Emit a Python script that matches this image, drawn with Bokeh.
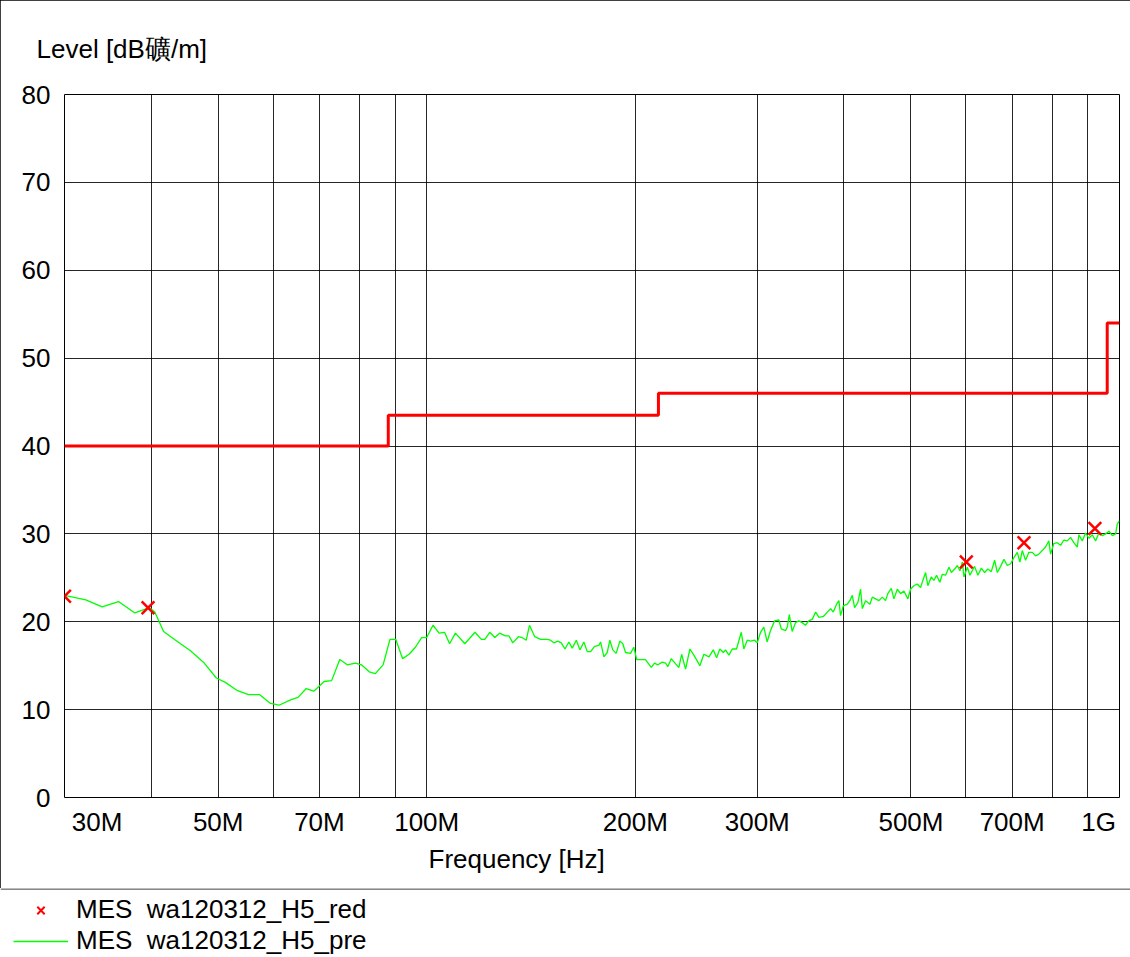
from bokeh.plotting import figure
from bokeh.models import Range1d, FixedTicker, Legend, LegendItem, Span, Title
from bokeh.layouts import column
from bokeh.embed import file_html
from bokeh.resources import INLINE

# ---------------- data ----------------
# x tick values (MHz) and their labels
tick_vals = [30, 40, 50, 60, 70, 80, 90, 100, 200, 300, 400, 500, 600, 700, 800, 900, 1000]
tick_labels = ["30M", "", "50M", "", "70M", "", "", "100M", "200M", "300M", "", "500M", "", "700M", "", "", "1G"]
y_ticks = [0, 10, 20, 30, 40, 50, 60, 70, 80]

# limit line (dBuV/m) - step after each frequency
limit_freq = [30, 88, 216, 960, 1000]
limit_level = [40, 43.5, 46, 54, 54]

# final measurement points (red x)
mark_freq = [30.0, 39.6, 601.0, 728.0, 921.5]
mark_level = [22.9, 21.6, 26.8, 29.0, 30.6]

# pre-scan trace (green)
pre_freq = [
    30.0, 32.2, 34.0, 35.9, 37.9, 39.8, 40.5, 41.7, 43.4, 45.6, 47.6, 49.7, 51.2, 53.2, 55.3, 57.4,
    59.5, 61.2, 63.6, 65.2, 67.0, 68.7, 71.1, 72.9, 74.9, 76.8, 78.9, 80.5, 82.6, 84.3, 86.5, 88.5,
    90.2, 92.3, 94.3, 96.3, 98.3, 100.0, 102.1, 104.2, 106.1, 107.9,
    110.0, 113.5, 117.4, 119.9, 121.3, 123.3, 125.4, 127.4, 129.9, 131.4, 133.1, 135.6, 137.3, 139.2,
    140.7, 143.2, 146.0, 149.3, 150.9, 152.6, 154.6, 156.4, 158.3, 160.4, 162.2, 164.4, 166.4, 168.6,
    170.5, 172.4, 174.7, 177.2, 178.2, 180.2, 182.2, 183.8, 185.6, 187.7, 190.0, 191.9, 193.6, 196.9,
    199.0, 201.0,
    206.9, 210.9, 213.2, 215.6, 218.8, 221.2, 222.9, 225.4, 228.7, 231.2, 233.3, 236.4, 239.8, 243.0,
    247.9, 251.2, 255.5, 259.2, 262.1, 264.9, 268.0, 270.0, 273.0, 276.1, 280.0, 284.5, 286.9, 290.2,
    293.4, 297.3, 300.0, 303.3, 306.6, 310.0, 313.5, 317.8, 322.3, 324.9, 329.7, 331.5, 333.7, 336.9,
    340.7, 344.4, 348.3, 352.1, 356.0,
    360.3, 364.3, 368.2, 373.7, 378.7, 382.8, 386.2, 390.5, 393.5, 395.7, 399.3, 404.7, 408.1, 411.4,
    414.6, 419.2, 422.9, 425.4, 430.0, 436.3, 439.7, 444.6, 449.5, 454.6, 459.5, 463.0, 468.3, 472.5,
    477.8, 483.1, 488.4, 494.9, 499.3, 504.8, 510.5, 516.2, 519.2, 524.9, 528.9, 534.9, 539.6, 544.4,
    550.4, 554.9, 561.1, 567.3, 571.9, 578.2, 583.4, 588.4, 593.2, 596.3, 603.1, 608.4,
    611.1, 617.7, 624.6, 631.8, 638.7, 645.7, 653.0, 660.3, 666.3, 673.6, 681.0, 688.7, 696.4, 704.0,
    712.0, 718.2, 723.9, 731.9, 739.9, 748.4, 756.6, 764.9, 773.5, 782.0, 790.7, 795.2, 803.9, 813.1,
    822.1, 831.2, 840.6, 849.8, 859.2, 869.0, 873.7, 883.6, 893.4, 903.4, 913.6, 923.6, 934.0, 944.5,
    954.9, 965.6, 976.6, 987.1, 992.7, 1000.0,
]
pre_level = [
    23.0, 22.5, 21.7, 22.3, 21.0, 21.6, 21.1, 18.9, 17.9, 16.7, 15.4, 13.6, 13.1, 12.2, 11.7, 11.7,
    10.7, 10.5, 11.1, 11.4, 12.4, 12.1, 13.2, 13.3, 15.7, 15.1, 15.3, 15.1, 14.3, 14.1, 15.1, 18.0,
    18.0, 15.8, 16.3, 17.1, 18.2, 18.2, 19.6, 18.7, 18.8, 17.5,
    18.7, 17.5, 18.8, 18.0, 18.0, 18.8, 18.2, 18.7, 18.4, 18.4, 17.6, 18.3, 18.2, 17.9,
    19.6, 18.3, 18.0, 18.0, 17.9, 17.6, 17.8, 17.6, 16.9, 17.7, 17.0, 17.9, 16.8, 17.7,
    16.6, 16.6, 17.2, 17.3, 17.7, 16.0, 16.5, 17.9, 16.8, 16.4, 17.8, 17.5, 16.5, 16.4,
    17.1, 15.7,
    15.7, 14.8, 15.3, 15.1, 15.4, 15.3, 14.9, 15.8, 15.2, 14.8, 16.3, 14.6, 16.9, 16.2,
    15.0, 16.3, 16.0, 16.8, 15.9, 16.9, 16.5, 16.8, 16.2, 16.9, 16.9, 18.8, 16.9, 17.9,
    17.8, 17.9, 17.6, 18.8, 19.4, 17.7, 19.0, 20.1, 20.2, 19.2, 19.0, 19.4, 20.8, 18.9,
    19.9, 20.1, 19.9, 19.6, 20.1,
    20.3, 21.1, 20.5, 20.6, 21.1, 21.5, 21.1, 22.0, 22.4, 20.7, 21.8, 22.0, 22.4, 23.0,
    21.6, 22.2, 23.7, 21.5, 22.4, 22.0, 22.8, 22.6, 22.4, 22.8, 22.4, 23.2, 23.8, 22.6,
    23.7, 23.2, 23.5, 22.6, 23.7, 24.1, 24.3, 23.9, 24.5, 25.6, 24.1, 25.1, 24.7, 25.3,
    24.5, 25.4, 25.3, 26.2, 25.6, 26.0, 26.4, 25.8, 26.8, 25.1, 26.2, 25.3,
    25.6, 26.3, 25.3, 26.1, 25.6, 26.0, 25.7, 27.0, 25.6, 26.3, 27.1, 26.4, 26.6, 27.3,
    27.9, 26.8, 28.1, 27.0, 27.9, 27.9, 27.5, 27.7, 28.1, 28.5, 29.2, 27.7, 28.9, 29.0,
    28.7, 29.3, 29.2, 29.6, 29.0, 28.5, 29.9, 29.2, 30.1, 29.5, 29.9, 29.2, 30.1, 29.8,
    30.0, 30.3, 29.8, 30.0, 31.1, 31.5,
]

y_title = "Level [dB礦/m]"
x_title = "Frequency [Hz]"
legend_labels = ["MES  wa120312_H5_red", "MES  wa120312_H5_pre"]

# ---------------- styling ----------------
FONT = "Liberation Sans"
FS = "26px"
NBSP = "\u00a0"

p = figure(width=1130, height=888, x_axis_type="log",
           x_range=Range1d(30, 1000), y_range=Range1d(0, 80),
           output_backend="svg", toolbar_location=None,
           min_border_left=64, min_border_right=11, min_border_top=94, min_border_bottom=91)
p.background_fill_color = "white"
p.border_fill_color = "white"
p.outline_line_color = "black"
p.outline_line_width = 1
p.styles = {"outline": "1px solid black", "outline-offset": "-1px"}

# y-axis title drawn as a left-aligned title above the frame
p.title.text = y_title
p.title.align = "left"
p.title.offset = -28
p.title.standoff = 61
p.title.text_font = FONT
p.title.text_font_size = FS
p.title.text_font_style = "normal"
p.title.text_color = "black"

p.xaxis.ticker = FixedTicker(ticks=tick_vals)
p.yaxis.ticker = FixedTicker(ticks=y_ticks)
overrides = {}
for v, lab in zip(tick_vals, tick_labels):
    overrides[v] = lab
# end labels are pulled inside the frame, as in the reference
overrides[tick_vals[0]] = NBSP * 9 + tick_labels[0]
overrides[tick_vals[-1]] = tick_labels[-1] + NBSP * 2
p.xaxis.major_label_overrides = overrides

for ax in (p.xaxis, p.yaxis):
    ax.axis_line_color = None
    ax.major_tick_line_color = None
    ax.minor_tick_line_color = None
    ax.major_tick_out = 0
    ax.major_tick_in = 0
    ax.major_label_text_font = FONT
    ax.major_label_text_font_size = FS
    ax.major_label_text_color = "black"
p.xaxis.major_label_standoff = 9
p.yaxis.major_label_standoff = 14

# x-axis title (sits left of centre in the reference)
x_label = Title(text=x_title, align="left", offset=364, standoff=4,
                text_font=FONT, text_font_size=FS, text_font_style="normal", text_color="black")
p.add_layout(x_label, "below")

for g in (p.xgrid, p.ygrid):
    g.grid_line_color = "black"
    g.grid_line_width = 1
    g.grid_line_alpha = 0.85

# data
p.step(limit_freq, limit_level, mode="after", line_color="#ff0000", line_width=3)
p.line(pre_freq, pre_level, line_color="#00ff00", line_width=1.3)
p.scatter(mark_freq, mark_level, marker="x", size=18, line_color="#ff0000", line_width=2.5)

# ---------------- legend strip ----------------
p2 = figure(width=1130, height=69, x_range=Range1d(0, 1), y_range=Range1d(0, 1),
            output_backend="svg", toolbar_location=None,
            x_axis_location=None, y_axis_location=None,
            min_border=0)
for fig in (p, p2):
    if "frame_align" in fig.properties():
        fig.frame_align = False
p2.outline_line_color = None
p2.xgrid.visible = False
p2.ygrid.visible = False
p2.add_layout(Span(location=0.993, dimension="width", line_color="black", line_width=1))
# legend sample glyphs: same data, lying outside this strip's visible range
leg_marks = p2.scatter(mark_freq, mark_level, marker="x", size=18, line_color="#ff0000", line_width=2)
leg_line = p2.line(pre_freq, pre_level, line_color="#00ff00", line_width=1.3)
legend = Legend(items=[LegendItem(label=legend_labels[0], renderers=[leg_marks]),
                       LegendItem(label=legend_labels[1], renderers=[leg_line])],
                location=(13, 1), orientation="vertical",
                border_line_color=None, background_fill_alpha=0,
                padding=0, margin=0, spacing=0,
                glyph_width=55, glyph_height=26, label_height=26, label_standoff=8,
                label_text_font=FONT, label_text_font_size=FS, label_text_color="black")
p2.add_layout(legend)

layout = column(p, p2, spacing=0)
open("out.html", "w").write(file_html(layout, INLINE))
